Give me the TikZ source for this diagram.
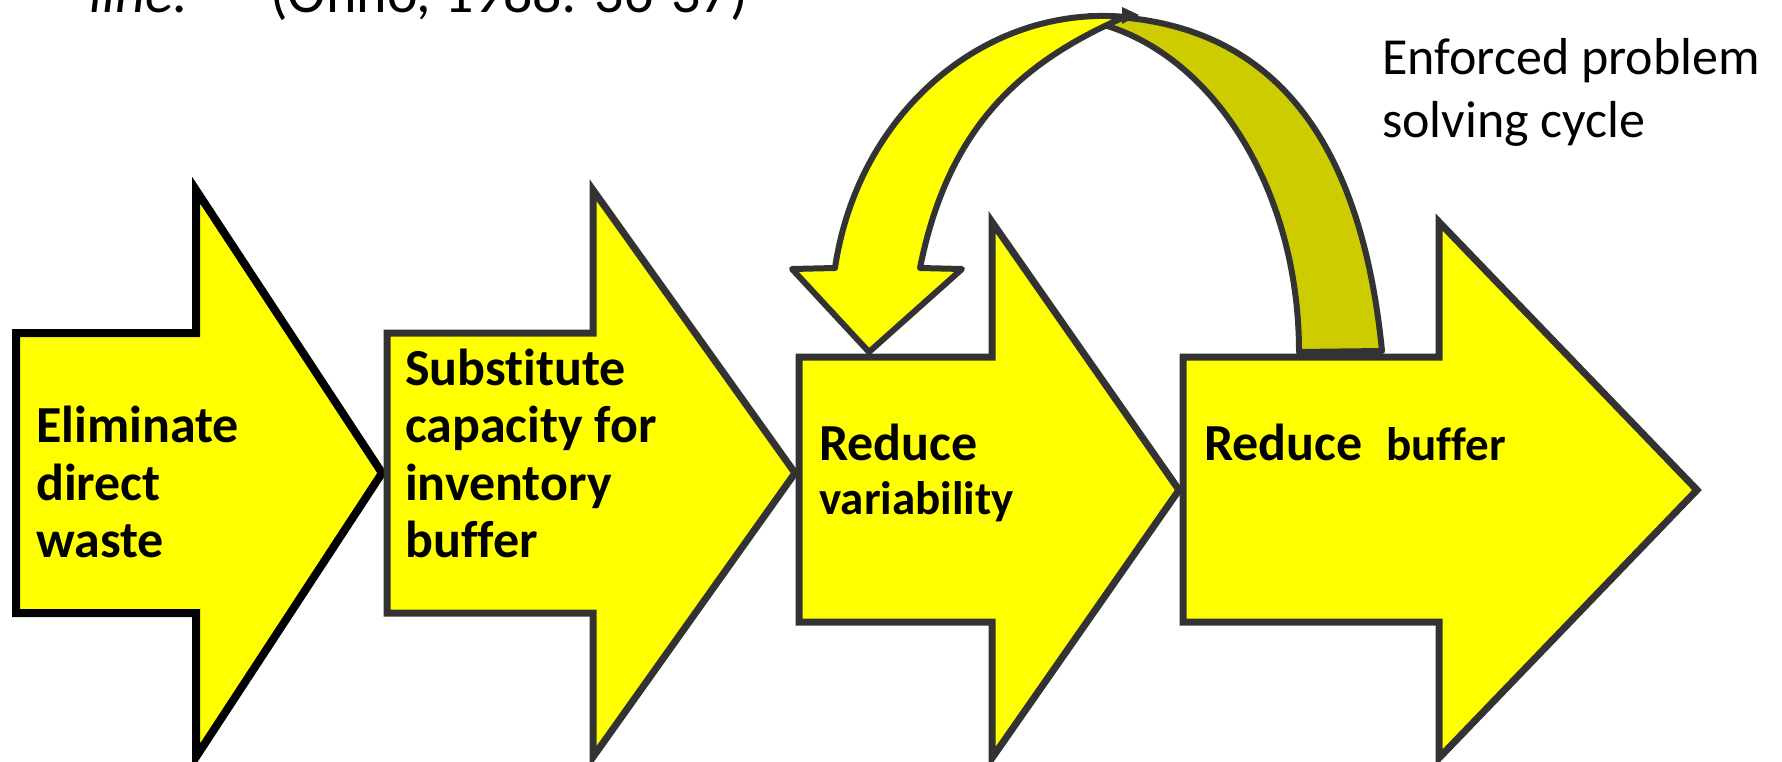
\documentclass[tikz,border=0pt]{standalone}
\usepackage{fontspec}
\setmainfont{Carlito}[Ligatures=NoCommon]
\definecolor{ayellow}{HTML}{FFFF00}
\definecolor{aolive}{HTML}{CCCC00}
\definecolor{adark}{HTML}{333333}
\begin{document}
\begin{tikzpicture}[x=1pt,y=-1pt,
  bigarrow/.style={fill=ayellow, draw=adark, line width=7pt, line join=miter, miter limit=10},
  curvepart/.style={draw=adark, line width=6pt, line join=round},
  lblbig/.style={anchor=base west, inner sep=0pt, font=\bfseries\fontsize{52}{57.5}\selectfont},
  lblsmall/.style={anchor=base west, inner sep=0pt, font=\bfseries\fontsize{47}{52}\selectfont},
  lblplain/.style={anchor=base west, inner sep=0pt, font=\fontsize{52}{64}\selectfont},
  lbltop/.style={anchor=base west, inner sep=0pt, font=\fontsize{58}{64}\selectfont}]
\useasboundingbox (0,0) rectangle (1782,762);
\begin{scope}
\clip (0,0) rectangle (1782,762);
% cut-off title text at the top
\node[lbltop] (tline) at (89,13) {\itshape line.};
\node[lbltop] (tref) at (270,13) {(Ohno, 1988: 36-37)};

% four block arrows
\draw[bigarrow, draw=black, line width=8pt] (16,333) -- (196,333) -- (196,190) -- (382,473) -- (196,757) -- (196,613) -- (16,613) -- cycle;
\draw[bigarrow] (387,333) -- (593,333) -- (593,190) -- (795,473) -- (593,757) -- (593,613) -- (387,613) -- cycle;
\draw[bigarrow] (799,357) -- (992,357) -- (992,222) -- (1179,490) -- (992,758) -- (992,622) -- (799,622) -- cycle;
\draw[bigarrow] (1183,357) -- (1439,357) -- (1439,222) -- (1697,490) -- (1439,758) -- (1439,622) -- (1183,622) -- cycle;

% curved problem-solving arrow: back (olive) part
\draw[curvepart, fill=aolive] (1299,352)
  arc[start angle=360, end angle=278, x radius=249, y radius=335]
  -- (1090,16) .. controls (1280,16) and (1362,150) .. (1382,351)
  -- cycle;
% front (yellow) part with the arrow head
\draw[curvepart, fill=ayellow] (920,268) -- (962,269) -- (869,352) -- (792,269) -- (835,268)
  arc[start angle=189.2, end angle=275, x radius=272, y radius=300]
  -- (1120,19) .. controls (1019.5,63.8) and (948,128) .. (920,268)
  -- cycle;
\fill[adark] (1122,7) -- (1139,15) -- (1122,24) -- cycle;

% labels
\node[lblbig] (e1) at (36,442) {Eliminate};
\node[lblbig] (e2) at (36,500) {direct};
\node[lblbig] (e3) at (36,557) {waste};

\node[lblbig] (s1) at (405,385) {Substitute};
\node[lblbig] (s2) at (405,442) {capacity for};
\node[lblbig] (s3) at (405,500) {inventory};
\node[lblbig] (s4) at (405,557) {buffer};

\node[lblbig] (r1) at (819,460) {Reduce};
\node[lblsmall] (r2) at (819,514) {variability};

\node[lblbig] (b1) at (1204,460) {Reduce};
\node[lblsmall] (b2) at (1386,460) {buffer};

\node[lblplain] (c1) at (1382,75) {Enforced problem};
\node[lblplain] (c2) at (1382,138) {solving cycle};
\end{scope}
\end{tikzpicture}
\end{document}
